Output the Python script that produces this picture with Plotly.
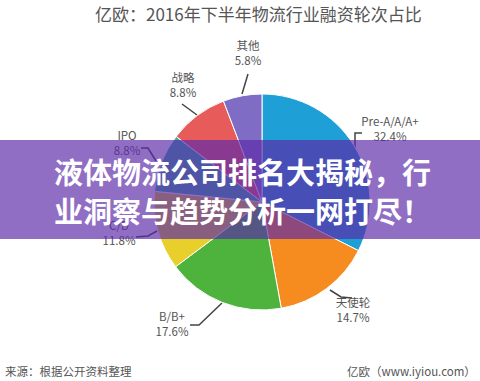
import plotly.graph_objects as go

# ---- data ----
labels = ["Pre-A/A/A+", "天使轮", "B/B+", "C/D", "IPO", "战略", "其他"]
values = [32.4, 14.7, 17.6, 11.8, 8.8, 8.8, 5.8]
colors = ["#1ea0d6", "#f68b1f", "#4db33d", "#e9cf2b", "#35b2a2", "#e85b5b", "#7f6cc4"]
title_text = "亿欧：2016年下半年物流行业融资轮次占比"
banner_lines = ["液体物流公司排名大揭秘，行", "业洞察与趋势分析一网打尽！"]
source_text = "来源：根据公开资料整理"
credit_text = "亿欧（www.iyiou.com）"

W, H = 480, 381
CJK = "Noto Sans CJK SC"

# label placement (pixel coords) and leader lines
label_pos = {
    "Pre-A/A/A+": (390, 131),
    "天使轮": (353, 312),
    "B/B+": (172, 326),
    "C/D": (119, 235),
    "IPO": (127, 145),
    "战略": (183, 87),
    "其他": (248, 55),
}
leaders = {
    "Pre-A/A/A+": [(362, 133), (355, 133), (355, 148)],
    "天使轮": [(330, 290), (341, 297), (352, 298)],
    "B/B+": [(190, 325), (199, 325), (222, 303)],
    "C/D": [(136, 237), (148, 236), (157, 231)],
    "IPO": [(141, 148), (148, 148), (156, 161)],
    "战略": [(182, 104), (197, 115)],
    "其他": [(248, 74), (242, 94)],
}

fig = go.Figure()

# pie
cx, cy, r = 262, 202, 108
fig.add_trace(go.Pie(
    labels=labels, values=values, sort=False, direction="clockwise", rotation=0,
    marker=dict(colors=colors, line=dict(color="white", width=1)),
    textinfo="none", hoverinfo="label+percent", showlegend=False,
    domain=dict(x=[(cx - r) / W, (cx + r) / W], y=[(H - cy - r) / H, (H - cy + r) / H]),
))

# leader lines
for lab in labels:
    pts = leaders[lab]
    fig.add_trace(go.Scatter(
        x=[p[0] for p in pts], y=[p[1] for p in pts], mode="lines",
        line=dict(color="#444444", width=1.5), hoverinfo="skip", showlegend=False,
    ))

# labels
fig.add_trace(go.Scatter(
    x=[label_pos[l][0] for l in labels], y=[label_pos[l][1] for l in labels],
    mode="text", text=[f"{l}<br>{v}%" for l, v in zip(labels, values)],
    textposition="middle center",
    textfont=dict(family=CJK, size=11.5, color="#555555"),
    hoverinfo="skip", showlegend=False,
))

fig.update_layout(
    width=W, height=H, margin=dict(l=0, r=0, t=0, b=0),
    paper_bgcolor="white", plot_bgcolor="rgba(0,0,0,0)",
    xaxis=dict(range=[0, W], visible=False, fixedrange=True, domain=[0, 1]),
    yaxis=dict(range=[H, 0], visible=False, fixedrange=True, domain=[0, 1]),
)

# banner
fig.add_shape(type="rect", xref="paper", yref="paper", x0=0, x1=1,
              y0=(H - 239) / H, y1=(H - 140) / H, layer="above",
              fillcolor="rgba(92,42,168,0.68)", line=dict(width=0))
for line_text, ly in zip(banner_lines, [171, 210]):
    fig.add_annotation(
        xref="paper", yref="paper", x=242 / W, y=(H - ly) / H,
        text=line_text, showarrow=False, align="center",
        font=dict(family=CJK, size=29, color="white", weight="bold"),
        xanchor="center", yanchor="middle",
    )

# title & footer
fig.add_annotation(xref="paper", yref="paper", x=258 / W, y=(H - 13) / H,
                   text=title_text, showarrow=False, xanchor="center", yanchor="middle",
                   font=dict(family=CJK, size=17, color="#555555"))
fig.add_annotation(xref="paper", yref="paper", x=3 / W, y=(H - 371) / H,
                   text=source_text, showarrow=False, xanchor="left", yanchor="middle",
                   font=dict(family=CJK, size=11.5, color="#555555"))
fig.add_annotation(xref="paper", yref="paper", x=478 / W, y=(H - 371) / H,
                   text=credit_text, showarrow=False, xanchor="right", yanchor="middle",
                   font=dict(family=CJK, size=11.5, color="#555555"))

fig.write_html("out.html", config={"displayModeBar": False},
               post_script="document.body.style.margin='0';document.body.style.overflow='hidden';")
